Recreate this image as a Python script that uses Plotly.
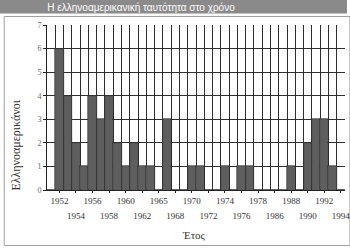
import plotly.graph_objects as go

# Data
years = ["1951", "1952", "1953", "1954", "1955", "1956", "1957", "1958", "1959",
         "1960", "1961", "1962", "1963", "1965", "1966", "1968", "1969", "1970",
         "1971", "1972", "1973", "1974", "1975", "1976", "1977", "1978", "1980",
         "1986", "1987", "1988", "1989", "1990", "1991", "1992", "1993", "1994"]
counts = [0, 6, 4, 2, 1, 4, 3, 4, 2, 1, 2, 1, 1, 0, 3, 0, 0, 1, 1, 0, 0, 1, 0,
          1, 1, 0, 0, 0, 0, 1, 0, 2, 3, 3, 1, 0]

title_text = "Η ελληνοαμερικανική ταυτότητα στο χρόνο"
y_title = "Ελληνοαμερικάνοι"
x_title = "Έτος"

idx = list(range(len(years)))
row1 = idx[1::4]
row2 = idx[3::4]

W, H = 350, 250
L, R, T, B = 47, 0, 25, 60
pw, ph = W - L - R, H - T - B

def px(xp):
    return (xp - L) / pw

def py(yp):
    return (H - B - yp) / ph

serif = "Liberation Serif, Times New Roman, serif"
grid = "#2e2e2e"

fig = go.Figure()
fig.add_trace(go.Bar(x=idx, y=counts, marker=dict(color="#5e5e5e",
                     line=dict(color="#2a2a2a", width=0.6)),
                     hoverinfo="skip"))
# invisible trace for second label row axis
fig.add_trace(go.Scatter(x=[idx[0]], y=[0], xaxis="x2", mode="markers",
                         marker=dict(opacity=0), hoverinfo="skip", showlegend=False))

fig.update_layout(
    width=W, height=H, margin=dict(l=L, r=R, t=T, b=B),
    paper_bgcolor="white", plot_bgcolor="white", showlegend=False, bargap=0,
    title=dict(text=title_text, x=141 / W, xanchor="center", y=1 - 7 / H,
               yanchor="middle",
               font=dict(family="Liberation Sans, Arial, sans-serif",
                         size=10, color="white")),
    xaxis=dict(range=[-0.5, 35.5], tickmode="array", tickvals=row1,
               ticktext=[years[i] for i in row1], showgrid=False, zeroline=False,
               showline=True, linecolor="#222", linewidth=1,
               ticks="outside", ticklen=2, tickcolor="#222",
               ticklabeloverflow="allow",
               tickfont=dict(family=serif, size=9, color="#333"),
               minor=dict(tickmode="linear", tick0=0.5, dtick=1, showgrid=True,
                          gridcolor=grid, gridwidth=1, ticks=""),
               fixedrange=True),
    xaxis2=dict(overlaying="x", matches="x", anchor="y", side="bottom",
                tickmode="array", tickvals=row2,
                ticktext=[years[i] for i in row2], showgrid=False,
                zeroline=False, showline=False, ticks="outside", ticklen=2,
                tickcolor="#222", ticklabelstandoff=15,
                ticklabeloverflow="allow",
                tickfont=dict(family=serif, size=9, color="#333")),
    yaxis=dict(range=[0, 7], dtick=1, showgrid=True, gridcolor=grid, gridwidth=1,
               zeroline=False, showline=True, linecolor="#222", linewidth=1,
               ticks="outside", ticklen=3, tickcolor="#222",
               tickfont=dict(family=serif, size=8, color="#666"), fixedrange=True),
    shapes=[
        dict(type="rect", xref="paper", yref="paper", x0=px(-2), x1=px(W + 2),
             y0=py(13.5), y1=py(-2), fillcolor="#8a8a8a", line=dict(width=0),
             layer="below"),
        dict(type="rect", xref="paper", yref="paper", x0=px(3.5), x1=px(W + 5),
             y0=py(245.5), y1=py(16.5), fillcolor="rgba(0,0,0,0)",
             line=dict(color="#a0a0a0", width=1), layer="below"),
    ],
    annotations=[
        dict(text=y_title, xref="paper", yref="paper", x=px(15), y=py(145),
             textangle=-90, showarrow=False, xanchor="center", yanchor="middle",
             font=dict(family=serif, size=12, color="#333")),
        dict(text=x_title, xref="paper", yref="paper", x=px(196), y=py(235),
             showarrow=False, xanchor="center", yanchor="middle",
             font=dict(family=serif, size=11, color="#333")),
    ],
)

fig.write_html("out.html")
